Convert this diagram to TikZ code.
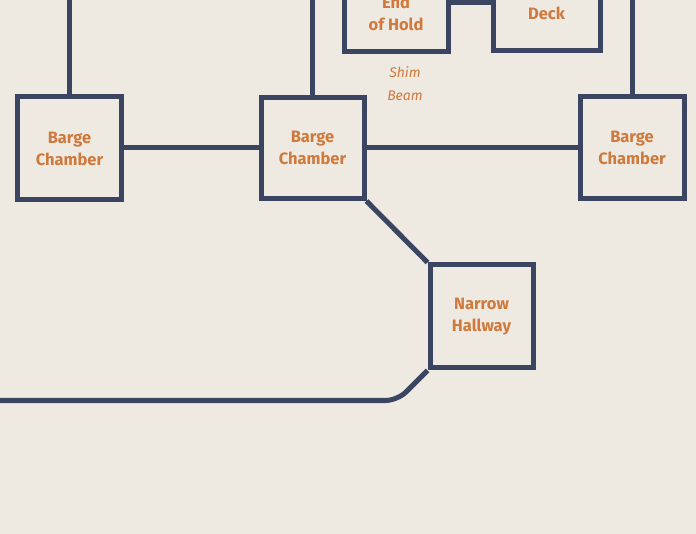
\documentclass[tikz,border=0pt]{standalone}
\usepackage{fontspec}
\setmainfont{Fira Sans}
\usetikzlibrary{positioning}
\definecolor{paper}{HTML}{EEEAE2}
\definecolor{ink}{HTML}{3B4561}
\definecolor{rust}{HTML}{CF7A3C}
\tikzset{
  room/.style={draw=ink, line width=5pt, minimum width=104pt, minimum height=102pt,
    inner sep=0pt, align=center, text=rust, font=\bfseries\fontsize{16.5}{22}\selectfont},
  link/.style={draw=ink, line width=5pt},
  note/.style={text=rust, align=center, font=\itshape\fontsize{14}{23}\selectfont}
}
\begin{document}
\begin{tikzpicture}[x=1pt,y=-1pt]
			%%%%% START %%%%%
			
			\useasboundingbox (0,0) rectangle (696,534);
			\fill[paper] (0,0) rectangle (696,534);
			\clip (0,0) rectangle (696,534);
			
			\node[room, minimum height=78pt] (endhold) at (396,13) {End\\of Hold};
			\node[room, minimum width=107pt, minimum height=76pt] (deck) at (546.5,13) {Deck};
			
			\node[room, minimum height=103pt] (bargeW) at (69.5,148.5) {Barge\\Chamber};
			\node[room, minimum width=103pt, minimum height=101pt] (bargeM) at (312.5,148) {Barge\\Chamber};
			\node[room] (bargeE) at (632,147.5) {Barge\\Chamber};
			
			\node[room, minimum width=103pt, minimum height=103pt] (hallway) at (481.5,316.5) {Narrow\\Hallway};
			
			\node[note] (shim) at (405,84) {Shim\\Beam};
			
			\coordinate (top) at (0,-10);
			\coordinate (holdlink) at (470,3);
			\coordinate (exitW) at (-10,400.5);
			
			\draw[link] (endhold.east |- holdlink) -- (deck.west |- holdlink);
			
			\draw[link] (bargeW.north) -- (bargeW.north |- top);
			\draw[link] (bargeM.north) -- (bargeM.north |- top);
			\draw[link] (bargeE.north) -- (bargeE.north |- top);
			
			\draw[link] (bargeW.east |- bargeM) -- (bargeM.west);
			\draw[link] (bargeM.east) -- (bargeE.west |- bargeM);
			\draw[link] (bargeM.south east) -- (hallway.north west);
			\draw[link, rounded corners=12pt] (hallway.south west) -- ++(-30,30) -- (exitW);
			
			%%%%% END %%%%%
\end{tikzpicture}
\end{document}
